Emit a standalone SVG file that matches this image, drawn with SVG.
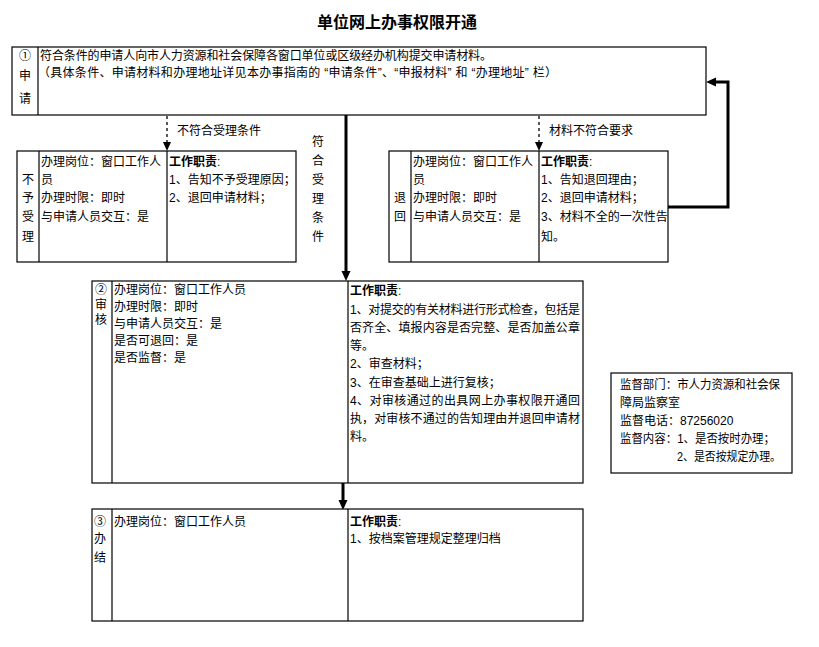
<svg xmlns="http://www.w3.org/2000/svg" width="819" height="647" viewBox="0 0 819 647">
<style>
.box{fill:#fff;stroke:#000;stroke-width:1.2}
.div{stroke:#000;stroke-width:1.2}
.t{font-family:"Liberation Sans","Noto Sans CJK SC",sans-serif;font-size:12px;fill:#000;dominant-baseline:central}
.b{font-weight:bold}
.title{font-family:"Liberation Sans","Noto Sans CJK SC",sans-serif;font-size:16px;font-weight:bold;fill:#000;text-anchor:middle;dominant-baseline:central}
.dash{stroke:#000;stroke-width:1.3;stroke-dasharray:3 3;fill:none}
.thick{stroke:#000;stroke-width:3;fill:none}
</style>
<rect width="819" height="647" fill="#fff"/>
<text class="title" x="397" y="22">单位网上办事权限开通</text>

<g id="connectors">
<line class="dash" x1="167" y1="116" x2="167" y2="143"/>
<path d="M163,142 L171,142 L167,151 Z" fill="#000"/>
<line class="dash" x1="539" y1="116" x2="539" y2="143"/>
<path d="M535,142 L543,142 L539,151 Z" fill="#000"/>
<line class="thick" x1="346" y1="115" x2="346" y2="272"/>
<path d="M341.5,271 L350.5,271 L346,281 Z" fill="#000"/>
<line class="thick" x1="343" y1="483" x2="343" y2="501"/>
<path d="M338.5,500 L347.5,500 L343,510 Z" fill="#000"/>
<polyline class="thick" points="668,207 728,207 728,82 714,82"/>
<path d="M716,77.5 L716,86.5 L706,82 Z" fill="#000"/>
<text class="t" x="177" y="131">不符合受理条件</text>
<text class="t" x="549" y="131">材料不符合要求</text>
<text class="t" x="318" y="142" text-anchor="middle">符</text>
<text class="t" x="318" y="161" text-anchor="middle">合</text>
<text class="t" x="318" y="180" text-anchor="middle">受</text>
<text class="t" x="318" y="199" text-anchor="middle">理</text>
<text class="t" x="318" y="218" text-anchor="middle">条</text>
<text class="t" x="318" y="237" text-anchor="middle">件</text>
</g>

<g id="apply">
<rect class="box" x="12" y="47" width="694" height="68"/>
<line class="div" x1="38" y1="47" x2="38" y2="115"/>
<text class="t" x="19" y="56">①</text>
<text class="t" x="19" y="76">申</text>
<text class="t" x="19" y="99">请</text>
<text class="t" x="40" y="56" textLength="452" lengthAdjust="spacing">符合条件的申请人向市人力资源和社会保障各窗口单位或区级经办机构提交申请材料。</text>
<text class="t" x="38" y="73" textLength="519" lengthAdjust="spacing">（具体条件、申请材料和办理地址详见本办事指南的 “申请条件”、“申报材料” 和 “办理地址” 栏）</text>
</g>

<g id="reject">
<rect class="box" x="17" y="151" width="279" height="111"/>
<line class="div" x1="39" y1="151" x2="39" y2="262"/>
<line class="div" x1="167" y1="151" x2="167" y2="262"/>
<text class="t" x="22" y="180">不</text>
<text class="t" x="22" y="198">予</text>
<text class="t" x="22" y="217">受</text>
<text class="t" x="22" y="237">理</text>
<text class="t" x="41" y="162">办理岗位：窗口工作人</text>
<text class="t" x="41" y="180">员</text>
<text class="t" x="41" y="198">办理时限：即时</text>
<text class="t" x="41" y="217">与申请人员交互：是</text>
<text class="t" x="169" y="162"><tspan class="b">工作职责</tspan>:</text>
<text class="t" x="169" y="180">1、告知不予受理原因；</text>
<text class="t" x="169" y="198">2、退回申请材料；</text>
</g>

<g id="return">
<rect class="box" x="389" y="151" width="279" height="111"/>
<line class="div" x1="411" y1="151" x2="411" y2="262"/>
<line class="div" x1="539" y1="151" x2="539" y2="262"/>
<text class="t" x="394" y="198">退</text>
<text class="t" x="394" y="217">回</text>
<text class="t" x="413" y="162">办理岗位：窗口工作人</text>
<text class="t" x="413" y="180">员</text>
<text class="t" x="413" y="198">办理时限：即时</text>
<text class="t" x="413" y="217">与申请人员交互：是</text>
<text class="t" x="541" y="162"><tspan class="b">工作职责</tspan>:</text>
<text class="t" x="541" y="180">1、告知退回理由；</text>
<text class="t" x="541" y="198">2、退回申请材料；</text>
<text class="t" x="541" y="217">3、材料不全的一次性告</text>
<text class="t" x="541" y="237">知。</text>
</g>

<g id="review">
<rect class="box" x="92" y="281" width="491" height="202"/>
<line class="div" x1="112" y1="281" x2="112" y2="483"/>
<line class="div" x1="348" y1="281" x2="348" y2="483"/>
<text class="t" x="95" y="290">②</text>
<text class="t" x="95" y="305">审</text>
<text class="t" x="95" y="320">核</text>
<text class="t" x="114" y="290">办理岗位：窗口工作人员</text>
<text class="t" x="114" y="307">办理时限：即时</text>
<text class="t" x="114" y="324">与申请人员交互：是</text>
<text class="t" x="114" y="341">是否可退回：是</text>
<text class="t" x="114" y="358">是否监督：是</text>
<text class="t" x="350" y="291"><tspan class="b">工作职责</tspan>:</text>
<text class="t" x="350" y="310" textLength="230" lengthAdjust="spacing">1、对提交的有关材料进行形式检查，包括是</text>
<text class="t" x="350" y="328" textLength="230" lengthAdjust="spacing">否齐全、填报内容是否完整、是否加盖公章</text>
<text class="t" x="350" y="346">等。</text>
<text class="t" x="350" y="364">2、审查材料；</text>
<text class="t" x="350" y="383">3、在审查基础上进行复核；</text>
<text class="t" x="350" y="401" textLength="230" lengthAdjust="spacing">4、对审核通过的出具网上办事权限开通回</text>
<text class="t" x="350" y="419" textLength="230" lengthAdjust="spacing">执，对审核不通过的告知理由并退回申请材</text>
<text class="t" x="350" y="437">料。</text>
</g>

<g id="finish">
<rect class="box" x="92" y="509" width="491" height="112"/>
<line class="div" x1="112" y1="509" x2="112" y2="621"/>
<line class="div" x1="348" y1="509" x2="348" y2="621"/>
<text class="t" x="94" y="522">③</text>
<text class="t" x="94" y="539">办</text>
<text class="t" x="94" y="558">结</text>
<text class="t" x="114" y="522">办理岗位：窗口工作人员</text>
<text class="t" x="350" y="522"><tspan class="b">工作职责</tspan>:</text>
<text class="t" x="350" y="539">1、按档案管理规定整理归档</text>
</g>

<g id="supervision">
<rect class="box" x="611" y="373" width="181" height="100"/>
<text class="t" x="620" y="385" textLength="160" lengthAdjust="spacingAndGlyphs">监督部门：市人力资源和社会保</text>
<text class="t" x="620" y="403">障局监察室</text>
<text class="t" x="620" y="421">监督电话：87256020</text>
<text class="t" x="620" y="439" textLength="155" lengthAdjust="spacingAndGlyphs">监督内容：1、是否按时办理；</text>
<text class="t" x="677" y="457" textLength="104" lengthAdjust="spacingAndGlyphs">2、是否按规定办理。</text>
</g>
</svg>
